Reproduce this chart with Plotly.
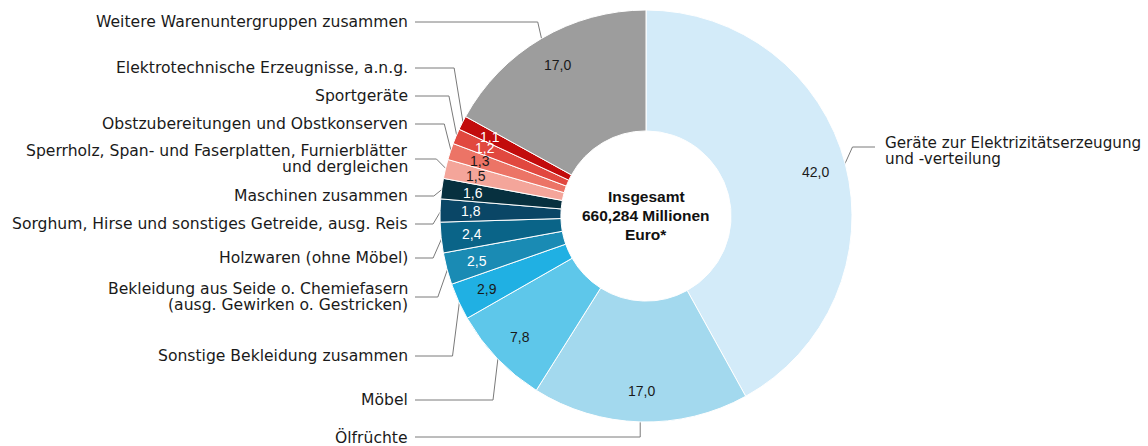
import math
import plotly.graph_objects as go

# ---- data ----
categories = [
    "Geräte zur Elektrizitätserzeugung\nund -verteilung",
    "Ölfrüchte",
    "Möbel",
    "Sonstige Bekleidung zusammen",
    "Bekleidung aus Seide o. Chemiefasern\n(ausg. Gewirken o. Gestricken)",
    "Holzwaren (ohne Möbel)",
    "Sorghum, Hirse und sonstiges Getreide, ausg. Reis",
    "Maschinen zusammen",
    "Sperrholz, Span- und Faserplatten, Furnierblätter\nund dergleichen",
    "Obstzubereitungen und Obstkonserven",
    "Sportgeräte",
    "Elektrotechnische Erzeugnisse, a.n.g.",
    "Weitere Warenuntergruppen zusammen",
]
values = [42.0, 17.0, 7.8, 2.9, 2.5, 2.4, 1.8, 1.6, 1.5, 1.3, 1.2, 1.1, 17.0]
value_labels = ["42,0", "17,0", "7,8", "2,9", "2,5", "2,4", "1,8", "1,6",
                "1,5", "1,3", "1,2", "1,1", "17,0"]
center_text = ["Insgesamt", "660,284 Millionen", "Euro*"]

# ---- styles / layout constants ----
colors = ["#d3ebf9", "#a3d9ee", "#5ec7ea", "#20b0e3", "#1a8bb4", "#0a6488",
          "#0a4666", "#07303f", "#f4a59a", "#ec7466", "#e1483f", "#c20c0c",
          "#9d9d9d"]
value_colors = ["#1a1a1a", "#1a1a1a", "#1a1a1a", "#1a1a1a", "white", "white",
                "white", "white", "#1a1a1a", "#1a1a1a", "white", "white",
                "#1a1a1a"]
W, H = 1148, 446
CX, CY, R = 646, 216, 206
HOLE = 0.413
R_TEXT = 175
# label anchor y (pixels) for each category, side, and elbow offset
label_y = [147, 437, 400, 356, 297, 258, 224, 196, 159, 124, 96, 68, 22]
label_side = ["right"] + ["left"] * 12
elbow_dx = [8, 0, -5, -7, -10, -9, -8, -9, -10, -7, -8, -9, -4]
LEFT_LINE_END = 415
LEFT_TEXT_X = 410
RIGHT_LINE_END = 875
RIGHT_TEXT_X = 883
LINE_SPACING = 16
LABEL_FONT = dict(family="DejaVu Sans", size=15.6, color="#1a1a1a")
RIGHT_FONT = dict(family="DejaVu Sans", size=15.2, color="#1a1a1a")

total = sum(values)
cum = 0.0
mid_angles = []
for v in values:
    mid_angles.append((cum + v / 2) / total * 360.0)
    cum += v


def polar(theta_deg, r):
    t = math.radians(theta_deg)
    return CX + r * math.sin(t), CY - r * math.cos(t)


fig = go.Figure()

fig.add_trace(go.Pie(
    labels=[c.replace("\n", " ") for c in categories],
    values=values,
    sort=False,
    direction="clockwise",
    rotation=0,
    hole=HOLE,
    textinfo="none",
    hoverinfo="label+value",
    marker=dict(colors=colors, line=dict(color="white", width=1)),
    domain=dict(x=[(CX - R) / W, (CX + R) / W],
                y=[1 - (CY + R) / H, 1 - (CY - R) / H]),
    showlegend=False,
))

# leader lines
lx, ly = [], []
for th, yl, side, dx in zip(mid_angles, label_y, label_side, elbow_dx):
    sx, sy = polar(th, R - 1)
    ex = sx + dx
    end = RIGHT_LINE_END if side == "right" else LEFT_LINE_END
    lx += [sx, ex, end, None]
    ly += [sy, yl, yl, None]
fig.add_trace(go.Scatter(x=lx, y=ly, mode="lines",
                         line=dict(color="#7a7a7a", width=1),
                         hoverinfo="skip", showlegend=False))

annotations = []

# value labels (annotations so they sit above the pie layer)
for th, txt, col in zip(mid_angles, value_labels, value_colors):
    px, py = polar(th, R_TEXT)
    annotations.append(dict(
        x=px, y=py, xref="x", yref="y", text=txt, showarrow=False,
        xanchor="center", yanchor="middle",
        font=dict(family="Liberation Sans", size=14, color=col)))

# category labels
for cat, yl, side in zip(categories, label_y, label_side):
    lines = cat.split("\n")
    n = len(lines)
    for i, line in enumerate(lines):
        yy = yl + (i - (n - 1) / 2) * LINE_SPACING
        if side == "right":
            yy = yl - 4 + i * LINE_SPACING
        annotations.append(dict(
            x=RIGHT_TEXT_X if side == "right" else LEFT_TEXT_X, y=yy,
            xref="x", yref="y", text=line, showarrow=False,
            xanchor="left" if side == "right" else "right", yanchor="middle",
            font=RIGHT_FONT if side == "right" else LABEL_FONT))

# center text
for i, line in enumerate(center_text):
    annotations.append(dict(
        x=CX, y=CY - 20 + i * 19, xref="x", yref="y", text="<b>%s</b>" % line,
        showarrow=False, xanchor="center", yanchor="middle",
        font=dict(family="Liberation Sans", size=15.5, color="#111111")))

fig.update_layout(
    width=W, height=H,
    margin=dict(l=0, r=0, t=0, b=0),
    paper_bgcolor="white", plot_bgcolor="rgba(0,0,0,0)",
    xaxis=dict(range=[0, W], visible=False, fixedrange=True, domain=[0, 1]),
    yaxis=dict(range=[H, 0], visible=False, fixedrange=True, domain=[0, 1]),
    annotations=annotations,
    showlegend=False,
)

fig.write_html("out.html",
               config={"displayModeBar": False},
               post_script="document.body.style.margin='0';"
                           "document.body.style.overflow='hidden';")
